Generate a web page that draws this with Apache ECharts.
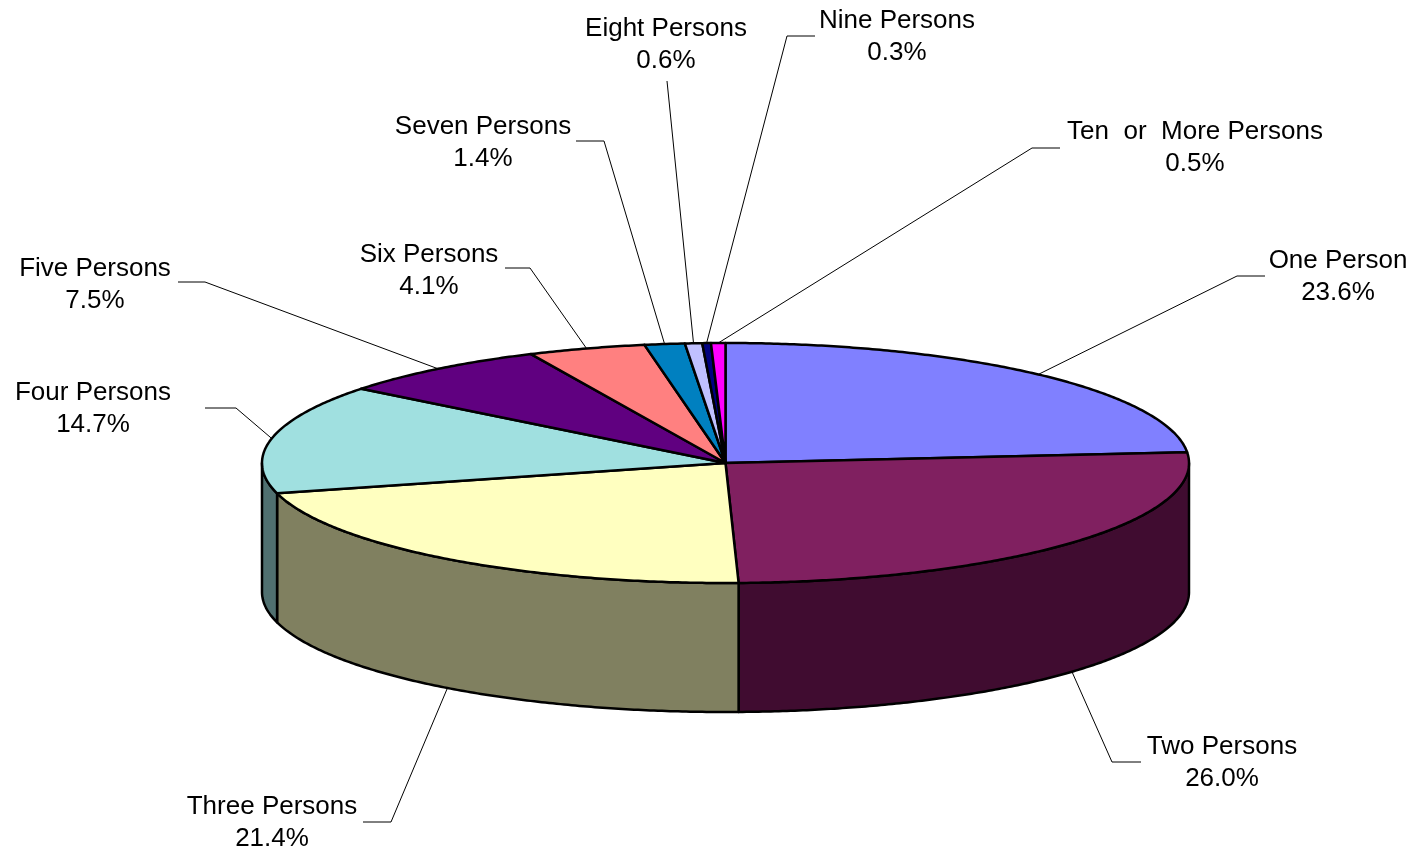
<!DOCTYPE html>
<html>
<head>
<meta charset="utf-8">
<script src="https://cdn.jsdelivr.net/npm/echarts@6/dist/echarts.min.js"></script>
<style>
  html, body { margin: 0; padding: 0; background: #fff; }
  #chart { width: 1416px; height: 853px; }
</style>
</head>
<body>
<div id="chart"></div>
<script>
var categories = ['One Person', 'Two Persons', 'Three Persons', 'Four Persons', 'Five Persons',
  'Six Persons', 'Seven Persons', 'Eight Persons', 'Nine Persons', 'Ten  or  More Persons'];
var shares = [23.6, 26.0, 21.4, 14.7, 7.5, 4.1, 1.4, 0.6, 0.3, 0.5];

var topColors = ['#8080FF', '#802060', '#FFFFC0', '#A0E0E0', '#600080',
  '#FF8080', '#0080C0', '#C0C0FF', '#000080', '#FF00FF'];
var sideColors = ['#404080', '#400C30', '#808060', '#507070', '#300040',
  '#804040', '#004060', '#606080', '#000040', '#800080'];

// label placement: [textX, textY, kneeX, kneeY, endX, endY]
var labelLayout = [
  [1338, 277, 1237, 276, 1265, 276],
  [1222, 763, 1112, 762, 1141, 762],
  [272, 823, 391, 822, 363, 822],
  [93, 409, 236, 408, 205, 408],
  [95, 285, 205, 282, 178, 282],
  [429, 271, 530, 268, 505, 268],
  [483, 143, 604, 141, 576, 141],
  [666, 45, 667, 81, 667, 81],
  [897, 37, 787, 36, 815, 36],
  [1195, 148, 1032, 148, 1060, 148]
];

var PIE = { cx: 725.5, cy: 463, rx: 463.5, ry: 120, depth: 129 };
var FONT = "'Liberation Sans', Arial, sans-serif";

function pt(theta, dy) {
  var r = theta * Math.PI / 180;
  return [PIE.cx + PIE.rx * Math.sin(r), PIE.cy - PIE.ry * Math.cos(r) + (dy || 0)];
}

function arc(a, b, dy) {
  var pts = [];
  var n = Math.max(2, Math.ceil((b - a) / 0.5));
  for (var i = 0; i <= n; i++) pts.push(pt(a + (b - a) * i / n, dy));
  return pts;
}

var total = shares.reduce(function (s, v) { return s + v; }, 0);
var acc = 0;
var seriesData = shares.map(function (v, i) {
  var start = acc / total;
  acc += v;
  return { name: categories[i], value: [v, start, acc / total] };
});

function renderSlice(params, api) {
  var idx = params.dataIndex;
  var a = api.value(1) * 360;
  var b = api.value(2) * 360;
  var children = [];

  // front wall (only the part facing the viewer)
  var s = Math.max(a, 90), e = Math.min(b, 270);
  if (e > s) {
    children.push({
      type: 'polygon',
      z2: 1,
      shape: { points: arc(s, e, 0).concat(arc(s, e, PIE.depth).reverse()) },
      style: { fill: sideColors[idx], stroke: '#000', lineWidth: 2.5, lineJoin: 'round' }
    });
  }

  // top face
  children.push({
    type: 'polygon',
    z2: 5,
    shape: { points: [[PIE.cx, PIE.cy]].concat(arc(a, b, 0)) },
    style: { fill: topColors[idx], stroke: '#000', lineWidth: 2.5, lineJoin: 'round' }
  });

  // leader line
  var mid = (a + b) / 2;
  var anchor = (mid > 90 && mid < 270) ? pt(mid, PIE.depth) : pt(mid, 0);
  var L = labelLayout[idx];
  children.push({
    type: 'polyline',
    z2: 10,
    shape: { points: [anchor, [L[2], L[3]], [L[4], L[5]]] },
    style: { stroke: '#000', lineWidth: 1, fill: null }
  });

  // label text
  children.push({
    type: 'text',
    z2: 10,
    style: {
      text: categories[idx] + '\n' + api.value(0).toFixed(1) + '%',
      x: L[0],
      y: L[1],
      align: 'center',
      verticalAlign: 'middle',
      fontSize: 26,
      fontFamily: FONT,
      lineHeight: 32,
      fill: '#000'
    }
  });

  return { type: 'group', children: children };
}

var chart = echarts.init(document.getElementById('chart'));
chart.setOption({
  backgroundColor: '#fff',
  animation: false,
  series: [{
    type: 'custom',
    coordinateSystem: 'none',
    silent: true,
    renderItem: renderSlice,
    data: seriesData
  }]
});
</script>
</body>
</html>
